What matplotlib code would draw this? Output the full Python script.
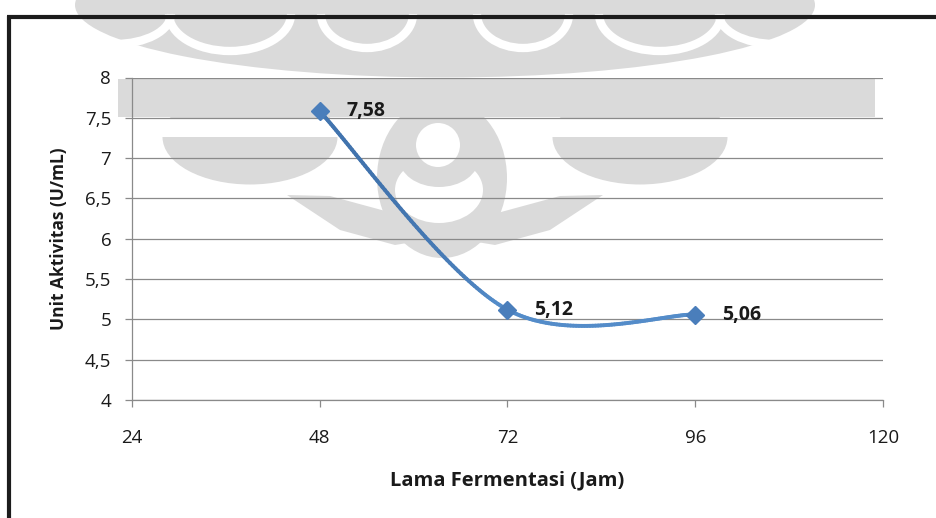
import numpy as np
import matplotlib
matplotlib.use("Agg")
import matplotlib.pyplot as plt
from matplotlib.patches import Ellipse, Circle, Rectangle, Polygon, Arc
from matplotlib.collections import LineCollection

# data
lama_jam = [48, 72, 96]
aktivitas = [7.58, 5.12, 5.06]
label_nilai = ["7,58", "5,12", "5,06"]
x_ticks = [24, 48, 72, 96, 120]
y_ticks = [4, 4.5, 5, 5.5, 6, 6.5, 7, 7.5, 8]
y_ticklabels = ["4", "4,5", "5", "5,5", "6", "6,5", "7", "7,5", "8"]

plt.rcParams["font.family"] = ["Open Sans", "DejaVu Sans"]

W, H = 937, 518
fig = plt.figure(figsize=(W / 100, H / 100), dpi=100)
fig.patch.set_facecolor("white")

# background layer in pixel units (frame + watermark)
bg = fig.add_axes([0, 0, 1, 1], zorder=0)
bg.set_xlim(0, W)
bg.set_ylim(H, 0)
bg.axis("off")

abu = "#dadada"
cx = 445


def cermin(pts):
    return [(2 * cx - x, y) for x, y in pts]


def tambah(p):
    bg.add_patch(p)


# top field with white arcs under the lobes
tambah(Ellipse((cx, 5), 740, 145, color=abu, lw=0))
for dx, w, h in [(78, 70, 46), (215, 100, 52), (330, 90, 38)]:
    for c in [cx - dx, cx + dx]:
        tambah(Arc((c, 14), w + 22, h + 22, theta1=0, theta2=180, color="white", lw=6))
tambah(Polygon([(cx, 12), (cx - 34, 62), (cx + 34, 62)], color=abu, lw=0))
# band behind the top gridlines
tambah(Rectangle((118, 79), 757, 38, color=abu, lw=0))
# upper wings (half ellipses)
for c in [cx - 195, cx + 195]:
    tambah(Ellipse((c, 137), 175, 95, color=abu, lw=0))
tambah(Rectangle((150, 118), 640, 19, color="white", lw=0))
# lower wings
kiri = [(287, 195), (330, 196), (400, 215), (425, 240), (395, 245), (340, 230)]
tambah(Polygon(kiri, color=abu, lw=0))
tambah(Polygon(cermin(kiri), color=abu, lw=0))
# teardrop
tambah(Polygon([(cx - 3, 100), (cx - 45, 130), (cx + 40, 130)], color=abu, lw=0))
tambah(Ellipse((cx - 3, 178), 130, 160, color=abu, lw=0))
tambah(Ellipse((cx - 6, 190), 88, 66, color="white", lw=0))
tambah(Ellipse((cx - 6, 158), 80, 58, color=abu, lw=0))
tambah(Circle((cx - 7, 145), 22, color="white", lw=0))

bg.plot([7, W], [17, 17], color="#1c1c1c", lw=3, solid_capstyle="butt", zorder=5)
bg.plot([9, 9], [16, H], color="#1c1c1c", lw=3, solid_capstyle="butt", zorder=5)

# chart
ax = fig.add_axes([132 / W, 1 - 400 / H, (883 - 132) / W, (400 - 77.5) / H], zorder=1)
ax.set_facecolor("none")
ax.set_xlim(24, 120)
ax.set_ylim(4, 8)

abu_garis = "#8a8a8a"
ax.set_yticks(y_ticks)
ax.set_yticklabels(y_ticklabels)
ax.set_xticks(x_ticks)
ax.grid(axis="y", color=abu_garis, lw=0.9)
ax.set_axisbelow(True)
for s in ["top", "right"]:
    ax.spines[s].set_visible(False)
for s in ["left", "bottom"]:
    ax.spines[s].set_color(abu_garis)
    ax.spines[s].set_linewidth(0.9)
ax.tick_params(axis="both", colors=abu_garis, labelcolor="#1a1a1a", labelsize=13.5,
               length=5, width=0.9, direction="out")
ax.tick_params(axis="x", pad=16)
ax.tick_params(axis="y", pad=10)

# smoothed line (bezier through points, excel style)
px = np.array(lama_jam, dtype=float)
py = np.array(aktivitas, dtype=float)
n = len(px)
xs, ys = [], []
for i in range(n - 1):
    p0 = np.array([px[max(i - 1, 0)], py[max(i - 1, 0)]])
    p1 = np.array([px[i], py[i]])
    p2 = np.array([px[i + 1], py[i + 1]])
    p3 = np.array([px[min(i + 2, n - 1)], py[min(i + 2, n - 1)]])
    c1 = p1 + (p2 - p0) / 6
    c2 = p2 - (p3 - p1) / 6
    t = np.linspace(0, 1, 80)[:, None]
    b = (1 - t) ** 3 * p1 + 3 * (1 - t) ** 2 * t * c1 + 3 * (1 - t) * t ** 2 * c2 + t ** 3 * p2
    xs.extend(b[:, 0])
    ys.extend(b[:, 1])
xs = np.array(xs)
ys = np.array(ys)

pts = np.column_stack([xs, ys]).reshape(-1, 1, 2)
segs = np.concatenate([pts[:-1], pts[1:]], axis=1)
# steeper part looks darker
d = ax.transData.transform(np.column_stack([xs, ys]))
ang = np.abs(np.arctan2(np.diff(d[:, 1]), np.diff(d[:, 0])))
k = np.clip((ang - 0.6) / 0.5, 0, 1)[:, None]
terang = np.array([0.33, 0.55, 0.79])
gelap = np.array([0.20, 0.38, 0.60])
warna = terang * (1 - k) + gelap * k
lc = LineCollection(segs, colors=warna, linewidths=2.8, capstyle="round", zorder=3)
ax.add_collection(lc)

ax.plot(lama_jam, aktivitas, linestyle="none", marker="D", markersize=9.5,
        color="#4a7ebb", zorder=4, clip_on=False)
for x, y, t in zip(lama_jam, aktivitas, label_nilai):
    ax.annotate(t, (x, y), xytext=(19, 0), textcoords="offset points",
                ha="left", va="center", fontsize=14, fontweight="bold", color="#1a1a1a")

ax.set_xlabel("Lama Fermentasi (Jam)", fontsize=14.5, fontweight="bold", color="#1a1a1a", labelpad=17)
ax.set_ylabel("Unit Aktivitas (U/mL)", fontsize=12.5, fontweight="bold", color="#1a1a1a", labelpad=12)

fig.savefig("out.png", dpi=100)
